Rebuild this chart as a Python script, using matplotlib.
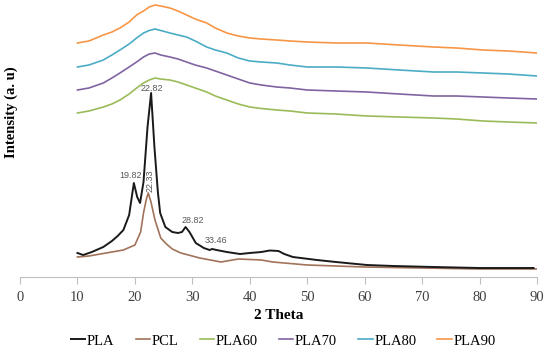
import matplotlib
matplotlib.use("Agg")
import matplotlib.pyplot as plt

# ---- data (intensity in arbitrary units) ----
pla_x = [10, 11, 12.5, 14.5, 16, 17, 18, 19, 19.82, 20.4, 20.9, 21.5, 22.2, 22.82, 23.4, 24.0, 24.4, 25.3, 26.5, 27.5, 28.2, 28.82, 29.5, 30.6, 32, 33.0, 33.46, 34.2, 36, 38.3, 40, 42, 43.5, 45, 46, 47.5, 51.7, 55, 60.4, 65, 72, 80, 85, 89.4]
pla_y = [24, 22, 25, 30, 36, 41, 47, 62, 94, 80, 74, 95, 150, 184, 130, 85, 64, 50, 45, 44, 45, 50, 45, 34, 29, 27, 28, 27, 25, 23, 24, 25, 26.5, 26, 23, 20, 17, 15, 12, 11, 10, 9, 9, 9]

pcl_x = [10, 12, 15, 18, 20, 21, 21.5, 22.0, 22.33, 22.8, 23.5, 24.5, 25.5, 26.5, 28, 31.3, 35, 38, 42, 44, 50, 60, 70, 80, 90]
pcl_y = [20, 21, 24, 27, 32, 45, 64, 78, 84, 75, 57, 39, 33, 28, 24, 19, 15, 18, 17, 15, 12, 10, 9, 8, 8]

wide_x = [10, 12, 14.5, 16, 17.4, 19, 20.3, 21.5, 22.5, 23.5, 24.5, 26.1, 27.5, 29, 30.5, 32.5, 34, 36, 38, 40, 42, 44.7, 47, 50, 55, 60.4, 66, 72, 76, 80.6, 85, 90]
pla60_y = [164, 166, 170, 173, 177, 183, 189, 194, 197, 199, 198, 197, 195, 192, 189, 185, 181, 177, 173, 170, 168.5, 167, 166, 164, 163, 161, 160, 159, 158, 156, 155, 154]
pla70_y = [187, 189, 194, 199, 204, 210, 215, 220, 223, 224, 222, 220, 218, 215, 212, 209, 206, 202, 198, 194, 192, 190, 189, 187, 186, 185, 183, 181, 181, 180, 179, 178]
pla80_y = [210, 212, 217, 222, 227, 233, 239, 244, 246.5, 248, 246.5, 244, 242, 240, 236, 230, 227, 224, 219, 216, 215, 214, 212, 210, 210, 209, 207, 205, 205, 204, 203, 201]
pla90_y = [234, 236, 242, 245, 249, 255, 262, 266, 270, 272, 271, 269, 266, 262, 258, 254, 249, 244, 241, 239, 238, 237, 236, 235, 234, 234, 232, 230, 229, 227, 226, 224]

peak_labels = ["19.82", "22.33", "22.82", "28.82", "33.46"]
x_ticks = [0, 10, 20, 30, 40, 50, 60, 70, 80, 90]

colors = {"PLA": "#1a1a1a", "PCL": "#a0735a", "PLA60": "#9bbb59",
          "PLA70": "#8064a2", "PLA80": "#4bacc6", "PLA90": "#f79646"}

serif = ["Liberation Serif", "DejaVu Serif"]

fig = plt.figure(figsize=(5.5, 3.53), dpi=100)
ax = fig.add_axes([20/550, (353-277)/353, 517/550, 277/353])

ax.plot(pla_x, pla_y, color=colors["PLA"], lw=1.4, label="PLA", zorder=5)
ax.plot(pcl_x, pcl_y, color=colors["PCL"], lw=1.2, label="PCL", zorder=4)
ax.plot(wide_x, pla60_y, color=colors["PLA60"], lw=1.2, label="PLA60")
ax.plot(wide_x, pla70_y, color=colors["PLA70"], lw=1.2, label="PLA70")
ax.plot(wide_x, pla80_y, color=colors["PLA80"], lw=1.2, label="PLA80")
ax.plot(wide_x, pla90_y, color=colors["PLA90"], lw=1.2, label="PLA90")

# peak annotations
lab_kw = dict(fontsize=6.5, color="#595959", family=["Liberation Sans", "DejaVu Sans"])
ax.text(19.3, 97, peak_labels[0], ha="center", va="bottom", **lab_kw)
ax.text(22.6, 85, peak_labels[1], ha="center", va="bottom", rotation=90, **lab_kw)
ax.text(23.0, 184, peak_labels[2], ha="center", va="bottom", **lab_kw)
ax.text(30.1, 52, peak_labels[3], ha="center", va="bottom", **lab_kw)
ax.text(34.2, 32, peak_labels[4], ha="center", va="bottom", **lab_kw)

ax.set_xlim(0, 90)
ax.set_ylim(0, 277)
ax.set_xticks(x_ticks)
ax.set_xticklabels([str(t) for t in x_ticks], fontfamily=serif, fontsize=10.5, color="#404040")
ax.set_yticks([])
ax.tick_params(axis="x", length=5, width=0.8, color="#bfbfbf", direction="out", pad=5)
for s in ["top", "right", "left"]:
    ax.spines[s].set_visible(False)
ax.spines["bottom"].set_color("#bfbfbf")
ax.spines["bottom"].set_linewidth(0.8)

ax.set_xlabel("2 Theta", fontfamily=serif, fontweight="bold", fontsize=11, labelpad=4)
fig.text(11/550, 1 - 112/353, "Intensity (a. u)", rotation=90, ha="center", va="center",
         fontfamily=serif, fontweight="bold", fontsize=10.5)

leg = fig.legend(loc="center", bbox_to_anchor=(0.515, 1 - 341/353), ncol=6, frameon=False,
                 prop={"family": serif, "size": 10.5}, handlelength=1.0, handletextpad=0.1,
                 columnspacing=1.45)

fig.savefig("out.png", dpi=100)
